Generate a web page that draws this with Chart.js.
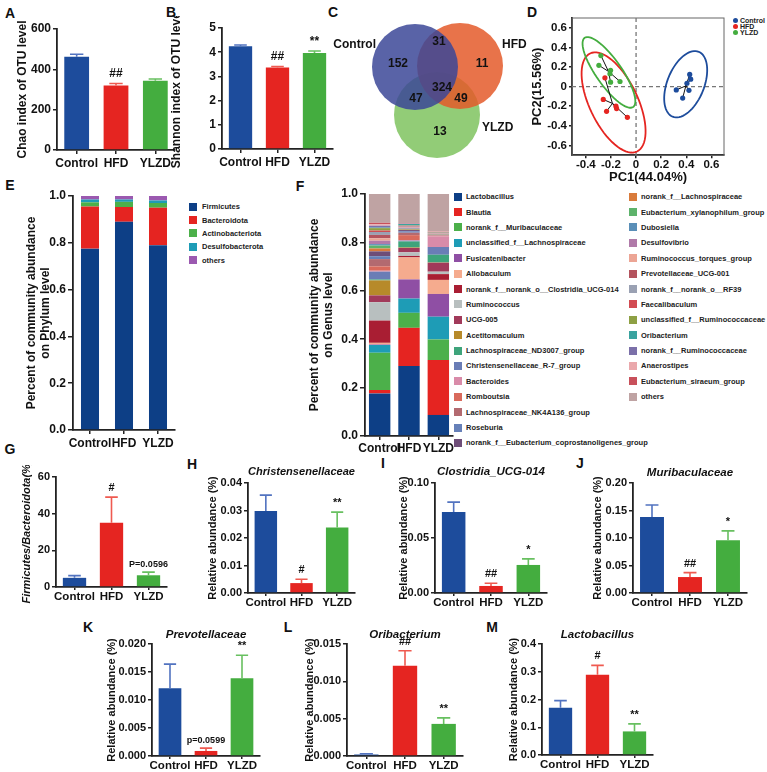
<!DOCTYPE html>
<html lang="en">
<head>
<meta charset="UTF-8">
<title>Gut microbiota – YLZD</title>
<script src="https://cdn.jsdelivr.net/npm/chart.js"></script>
<style>
  body { margin: 0; width: 767px; height: 772px; background: #fff; position: relative; overflow: hidden;
         font-family: 'Liberation Sans', Arial, sans-serif; color: #111; }
  canvas { position: absolute; }
  .letter { position: absolute; font-weight: bold; font-size: 14px; line-height: 1; transform: translate(-50%, -50%); }
  .lg { position: absolute; font-weight: bold; color: #222; }
  .lg .it { display: flex; align-items: center; white-space: nowrap; }
  .lg .sw { display: inline-block; flex: none; }
  #legendE { left: 189px; top: 200px; font-size: 7.5px; }
  #legendE .it { height: 13.4px; }
  #legendE .sw { width: 8px; height: 8px; margin-right: 5px; }
  #legendF { left: 454px; top: 189px; font-size: 7.5px; display: grid; grid-template-rows: repeat(17, 15.4px);
             grid-template-columns: 175px auto; grid-auto-flow: column; }
  #legendF .sw { width: 8px; height: 8px; margin-right: 4px; }
  #legendD { left: 733px; top: 17px; font-size: 7px; }
  #legendD .it { height: 6.4px; }
  #legendD .sw { width: 5px; height: 5px; border-radius: 50%; margin-right: 2px; }
</style>
</head>
<body>
<div class="letter" style="left:10px;top:13px">A</div>
<div class="letter" style="left:171px;top:12px">B</div>
<div class="letter" style="left:333px;top:12px">C</div>
<div class="letter" style="left:532px;top:12px">D</div>
<div class="letter" style="left:10px;top:185px">E</div>
<div class="letter" style="left:300px;top:186px">F</div>
<div class="letter" style="left:10px;top:449px">G</div>
<div class="letter" style="left:192px;top:464px">H</div>
<div class="letter" style="left:383px;top:463px">I</div>
<div class="letter" style="left:580px;top:463px">J</div>
<div class="letter" style="left:88px;top:627px">K</div>
<div class="letter" style="left:288px;top:627px">L</div>
<div class="letter" style="left:492px;top:627px">M</div>
<div id="legendD" class="lg"></div>
<div id="legendE" class="lg"></div>
<div id="legendF" class="lg"></div>

<script>
// ---------------- data ----------------
const groups = ['Control', 'HFD', 'YLZD'];
const groupColors = ['#1d4c9c', '#e52521', '#44ad3f'];
const errColors = ['#5273c0', '#ef5a50', '#68c060'];

// A, B: alpha diversity
const chaoMean = [462, 320, 343];
const chaoErr = [13, 10, 9];
const chaoMarks = ['', '##', ''];
const shannonMean = [4.25, 3.37, 3.97];
const shannonErr = [0.05, 0.04, 0.08];
const shannonMarks = ['', '##', '**'];

// C: Venn (OTU counts)
const vennSets = ['Control', 'HFD', 'YLZD'];
const vennCounts = [152, 31, 11, 47, 324, 49, 13];

// D: PCA
const pcaControl = [[0.427, 0.124], [0.435, 0.076], [0.421, -0.038], [0.32, -0.034], [0.371, -0.117], [0.405, 0.034]];
const pcaHFD = [[-0.248, 0.09], [-0.261, -0.131], [-0.235, -0.252], [-0.16, -0.2], [-0.155, -0.224], [-0.069, -0.314]];
const pcaYLZD = [[-0.28, 0.317], [-0.296, 0.217], [-0.203, 0.166], [-0.203, 0.045], [-0.128, 0.052], [-0.208, 0.131]];
const ellipseCenter = [[0.395, 0.024], [-0.179, -0.162], [-0.216, 0.145]];
const ellipseMajor = [[0.104, 0.331], [0.187, -0.5], [0.193, -0.353]];
const ellipseMinor = [[0.136, -0.071], [0.173, 0.107], [0.083, 0.076]];
const pcaXTicks = [-0.4, -0.2, 0, 0.2, 0.4, 0.6];
const pcaYTicks = [-0.6, -0.4, -0.2, 0, 0.2, 0.4, 0.6];

// E: phylum level
const phylumNames = ['Firmicutes', 'Bacteroidota', 'Actinobacteriota', 'Desulfobacterota', 'others'];
const phylumColors = ['#0d3f86', '#e52421', '#4cb04a', '#1e9cb6', '#9b59b0'];
const phylumControl = [0.775, 0.18, 0.018, 0.012, 0.015];
const phylumHFD = [0.89, 0.063, 0.022, 0.01, 0.015];
const phylumYLZD = [0.79, 0.16, 0.02, 0.011, 0.019];

// F: genus level
const genusNames = ['Lactobacillus', 'Blautia', 'norank_f__Muribaculaceae', 'unclassified_f__Lachnospiraceae',
  'Fusicatenibacter', 'Allobaculum', 'norank_f__norank_o__Clostridia_UCG-014', 'Ruminococcus', 'UCG-005',
  'Acetitomaculum', 'Lachnospiraceae_ND3007_group', 'Christensenellaceae_R-7_group', 'Bacteroides', 'Romboutsia',
  'Lachnospiraceae_NK4A136_group', 'Roseburia', 'norank_f__Eubacterium_coprostanoligenes_group',
  'norank_f__Lachnospiraceae', 'Eubacterium_xylanophilum_group', 'Dubosiella', 'Desulfovibrio',
  'Ruminococcus_torques_group', 'Prevotellaceae_UCG-001', 'norank_f__norank_o__RF39', 'Faecalibaculum',
  'unclassified_f__Ruminococcaceae', 'Oribacterium', 'norank_f__Ruminococcaceae', 'Anaerostipes',
  'Eubacterium_siraeum_group', 'others'];
const genusColors = ['#0d3f86', '#e52421', '#4cb04a', '#1e9cb6', '#8f4fa4', '#f5ab8e', '#a91e33', '#b8bfbf',
  '#a13a5a', '#b78a2a', '#3ea47b', '#6a7db6', '#d98ba9', '#d96a5c', '#b36a70', '#6680b8', '#6e4d78',
  '#d97b3b', '#5db36b', '#5a8fb8', '#b07aa9', '#eca595', '#b4545e', '#9aa1b3', '#d24b52', '#8ea044',
  '#3aa39f', '#7b70a9', '#eaa8ac', '#c8505b', '#bfa3a3'];
const genusControl = [0.176, 0.014, 0.154, 0.032, 0.002, 0.007, 0.092, 0.076, 0.028, 0.062, 0.004, 0.032,
  0.004, 0.018, 0.03, 0.012, 0.02, 0.012, 0.012, 0.006, 0.014, 0.01, 0.014, 0.012, 0.006, 0.01, 0.002,
  0.008, 0.006, 0.006, 0.119];
const genusHFD = [0.289, 0.158, 0.062, 0.059, 0.079, 0.091, 0.006, 0.015, 0.018, 0.002, 0.025, 0.003,
  0.003, 0.02, 0.01, 0.006, 0.005, 0.002, 0.003, 0.001, 0.004, 0.003, 0.002, 0.002, 0.001, 0.001, 0.006,
  0.001, 0.001, 0.002, 0.12];
const genusYLZD = [0.087, 0.227, 0.085, 0.094, 0.094, 0.058, 0.024, 0.01, 0.037, 0.001, 0.032, 0.032,
  0.044, 0.003, 0.001, 0.001, 0.001, 0.001, 0.001, 0.001, 0.001, 0.001, 0.001, 0.002, 0.001, 0.001, 0.001,
  0.001, 0.001, 0.001, 0.155];

// G-M: relative abundance
const fbMean = [5, 35, 6.4];
const fbErr = [1.2, 14, 1.7];
const fbMarks = ['', '#', 'P=0.0596'];
const christMean = [0.0298, 0.0036, 0.0238];
const christErr = [0.0058, 0.0014, 0.0056];
const christMarks = ['', '#', '**'];
const clostMean = [0.0736, 0.0064, 0.0255];
const clostErr = [0.009, 0.0024, 0.0055];
const clostMarks = ['', '##', '*'];
const muriMean = [0.138, 0.029, 0.096];
const muriErr = [0.022, 0.008, 0.017];
const muriMarks = ['', '##', '*'];
const prevoMean = [0.0121, 0.0009, 0.0139];
const prevoErr = [0.0043, 0.0005, 0.0041];
const prevoMarks = ['', 'p=0.0599', '**'];
const oribMean = [0.0002, 0.0121, 0.0043];
const oribErr = [0.0001, 0.002, 0.0008];
const oribMarks = ['', '##', '**'];
const lactoMean = [0.17, 0.289, 0.085];
const lactoErr = [0.026, 0.034, 0.027];
const lactoMarks = ['', '#', '**'];

// ---------------- setup ----------------
const FONT = "'Liberation Sans', Arial, sans-serif";
Chart.defaults.font.family = FONT;
Chart.defaults.font.weight = 'bold';
Chart.defaults.color = '#111';
Chart.defaults.animation = false;
Chart.defaults.plugins.legend.display = false;
Chart.defaults.plugins.tooltip.enabled = false;

function makeCanvas(left, top, w, h) {
  const c = document.createElement('canvas');
  c.width = w; c.height = h;
  c.style.left = left + 'px'; c.style.top = top + 'px';
  c.style.width = w + 'px'; c.style.height = h + 'px';
  document.body.appendChild(c);
  return c;
}

// error bars (upper only) + significance marks above them
const errorBars = {
  id: 'errorBars',
  afterDatasetsDraw(chart, args, opts) {
    if (!opts.errors) return;
    const ctx = chart.ctx;
    const y = chart.scales.y;
    const values = chart.data.datasets[0].data;
    chart.getDatasetMeta(0).data.forEach((bar, i) => {
      const yBar = y.getPixelForValue(values[i]);
      const yErr = y.getPixelForValue(values[i] + opts.errors[i]);
      const half = bar.width * 0.27;
      ctx.save();
      ctx.strokeStyle = errColors[i];
      ctx.lineWidth = 1.6;
      ctx.beginPath();
      ctx.moveTo(bar.x, yBar);
      ctx.lineTo(bar.x, yErr);
      ctx.moveTo(bar.x - half, yErr);
      ctx.lineTo(bar.x + half, yErr);
      ctx.stroke();
      const mark = opts.marks[i];
      if (mark) {
        const small = mark.includes('=');
        ctx.fillStyle = '#111';
        ctx.font = `bold ${small ? 9 : opts.markSize}px ${FONT}`;
        ctx.textAlign = 'center';
        ctx.textBaseline = 'alphabetic';
        ctx.fillText(mark, bar.x, yErr - (small ? 5 : 6));
      }
      ctx.restore();
    });
  }
};

// legend built in html from the chart's own legend items
const htmlLegend = {
  id: 'htmlLegend',
  afterUpdate(chart, args, opts) {
    const box = document.getElementById(opts.containerID);
    if (!box) return;
    box.innerHTML = '';
    chart.options.plugins.legend.labels.generateLabels(chart).forEach(item => {
      const row = document.createElement('div');
      row.className = 'it';
      const sw = document.createElement('span');
      sw.className = 'sw';
      sw.style.background = item.fillStyle;
      const tx = document.createElement('span');
      tx.textContent = item.text;
      row.append(sw, tx);
      box.append(row);
    });
  }
};

const axisColor = '#222';

function yScale(p) {
  return {
    min: 0, max: p.max,
    ticks: { stepSize: p.step, font: { size: p.tick }, padding: 2, callback: v => (+v).toFixed(p.dec) },
    grid: { display: true, drawOnChartArea: false, drawTicks: true, tickLength: p.yTl || 4, color: axisColor, lineWidth: 1.5 },
    border: { display: true, color: axisColor, width: 1.8 },
    title: { display: true, text: p.yTitle, padding: 0,
             font: { size: p.titleSize, style: p.italic ? 'italic' : 'normal', lineHeight: p.titleLh || 1.25 } },
    afterFit: s => { s.width = p.yW; }
  };
}

function xScale(p) {
  return {
    ticks: { font: { size: p.xTick }, padding: p.xPad, maxRotation: 0, minRotation: 0, autoSkip: false },
    grid: { display: true, drawOnChartArea: false, drawTicks: true, tickLength: p.xTl, color: axisColor, lineWidth: 1.5, offset: false },
    border: { display: true, color: axisColor, width: 1.8 },
    afterFit: s => { s.height = p.xH; }
  };
}

// simple bar panel with error bars
function barPanel(p) {
  const [x0, yTop, x1, y0] = p.area;
  const left = Math.round(p.titleX - p.titleSize * 0.625);
  const top = Math.round(yTop - p.topSpace);
  const w = Math.round(x1 + 6 - left);
  const h = Math.round(y0 + p.xH - top);
  p.yW = x0 - left;
  const canvas = makeCanvas(left, top, w, h);
  const titleH = p.title ? p.headSize * 1.2 + p.headGap : 0;
  new Chart(canvas, {
    type: 'bar',
    data: {
      labels: groups,
      datasets: [{ data: p.mean, backgroundColor: groupColors, borderWidth: 0, barPercentage: 0.63, categoryPercentage: 1 }]
    },
    options: {
      responsive: false,
      layout: { padding: { left: 0, top: (yTop - top) - titleH, right: w - (x1 - left), bottom: 0 } },
      scales: { x: xScale(p), y: yScale(p) },
      plugins: {
        title: p.title ? {
          display: true, text: p.title, fullSize: false,
          font: { size: p.headSize, style: 'italic', weight: 'bold' },
          padding: { top: 0, bottom: p.headGap }, color: '#111'
        } : { display: false },
        errorBars: { errors: p.err, marks: p.marks, markSize: p.markSize }
      }
    },
    plugins: [errorBars]
  });
}

// stacked composition panel
function stackPanel(p) {
  const [x0, yTop, x1, y0] = p.area;
  const left = Math.round(p.titleX - p.titleSize * p.titleLh / 2);
  const top = Math.round(yTop - p.topSpace);
  const w = Math.round(x1 + 6 - left);
  const h = Math.round(y0 + p.xH - top);
  p.yW = x0 - left;
  const canvas = makeCanvas(left, top, w, h);
  const datasets = p.names.map((name, k) => ({
    label: name,
    data: p.values.map(g => g[k]),
    backgroundColor: p.colors[k],
    borderWidth: 0,
    barPercentage: p.barPct,
    categoryPercentage: 1
  }));
  const xs = xScale(p); xs.stacked = true;
  const ys = yScale(p); ys.stacked = true;
  new Chart(canvas, {
    type: 'bar',
    data: { labels: groups, datasets },
    options: {
      responsive: false,
      layout: { padding: { left: 0, top: yTop - top, right: w - (x1 - left), bottom: 0 } },
      scales: { x: xs, y: ys },
      plugins: { htmlLegend: { containerID: p.legendID } }
    },
    plugins: [htmlLegend]
  });
}

// ---------------- A, B ----------------
const topRow = { tick: 12, titleSize: 12, xTick: 12, xPad: 2, xTl: 4, xH: 20, topSpace: 12, markSize: 12 };
barPanel(Object.assign({}, topRow, {
  area: [57, 29, 175, 150], max: 600, step: 200, dec: 0, titleX: 22,
  yTitle: 'Chao index of OTU level', mean: chaoMean, err: chaoErr, marks: chaoMarks
}));
barPanel(Object.assign({}, topRow, {
  area: [222, 28, 333, 149], max: 5, step: 1, dec: 0, titleX: 176,
  yTitle: 'Shannon index of OTU level', mean: shannonMean, err: shannonErr, marks: shannonMarks
}));

// ---------------- C: Venn ----------------
const vennCenter = [[85, 53], [130, 52], [107, 101]];
const vennRadius = 43;
const vennFill = ['rgba(60,72,152,0.85)', 'rgba(228,91,42,0.85)', 'rgba(104,184,66,0.72)'];
const vennCountPos = [[68, 50], [109, 28], [152, 50], [86, 85], [112, 74], [131, 85], [110, 118]];
const vennNamePos = [[46, 31, 'right'], [172, 31, 'left'], [152, 114, 'left']];

const vennText = {
  id: 'vennText',
  afterDatasetsDraw(chart) {
    const { ctx, scales: { x, y } } = chart;
    ctx.save();
    ctx.fillStyle = '#111';
    ctx.font = `bold 12px ${FONT}`;
    ctx.textBaseline = 'middle';
    ctx.textAlign = 'center';
    vennCounts.forEach((n, i) => {
      ctx.fillText(String(n), x.getPixelForValue(vennCountPos[i][0]), y.getPixelForValue(vennCountPos[i][1]));
    });
    vennSets.forEach((name, i) => {
      ctx.textAlign = vennNamePos[i][2];
      ctx.fillText(name, x.getPixelForValue(vennNamePos[i][0]), y.getPixelForValue(vennNamePos[i][1]));
    });
    ctx.restore();
  }
};

new Chart(makeCanvas(330, 14, 210, 151), {
  type: 'scatter',
  data: {
    datasets: vennSets.map((name, i) => ({
      label: name,
      data: [{ x: vennCenter[i][0], y: vennCenter[i][1] }],
      backgroundColor: vennFill[i],
      borderWidth: 0,
      clip: false,
      pointRadius: ctx => {
        const s = ctx.chart.scales.x;
        return s.getPixelForValue(vennRadius) - s.getPixelForValue(0);
      }
    }))
  },
  options: {
    responsive: false,
    layout: { padding: 0 },
    scales: {
      x: { display: false, min: 0, max: 210 },
      y: { display: false, min: 0, max: 151, reverse: true }
    }
  },
  plugins: [vennText]
});

// ---------------- D: PCA ----------------
const pcaGroups = [pcaControl, pcaHFD, pcaYLZD];
const pcaExtras = {
  id: 'pcaExtras',
  beforeDatasetsDraw(chart) {
    const { ctx, chartArea: a, scales: { x, y } } = chart;
    ctx.save();
    // frame
    ctx.strokeStyle = '#666';
    ctx.lineWidth = 1;
    ctx.strokeRect(a.left, a.top, a.right - a.left, a.bottom - a.top);
    // zero lines
    ctx.strokeStyle = '#777';
    ctx.lineWidth = 1.3;
    ctx.setLineDash([4, 3]);
    ctx.beginPath();
    ctx.moveTo(x.getPixelForValue(0), a.top);
    ctx.lineTo(x.getPixelForValue(0), a.bottom);
    ctx.moveTo(a.left, y.getPixelForValue(0));
    ctx.lineTo(a.right, y.getPixelForValue(0));
    ctx.stroke();
    ctx.setLineDash([]);
    // confidence ellipses
    ellipseCenter.forEach((c, g) => {
      const u = ellipseMajor[g], v = ellipseMinor[g];
      ctx.strokeStyle = groupColors[g];
      ctx.lineWidth = 1.8;
      ctx.beginPath();
      for (let k = 0; k <= 72; k++) {
        const t = k / 72 * Math.PI * 2;
        const px = x.getPixelForValue(c[0] + u[0] * Math.cos(t) + v[0] * Math.sin(t));
        const py = y.getPixelForValue(c[1] + u[1] * Math.cos(t) + v[1] * Math.sin(t));
        if (k === 0) ctx.moveTo(px, py); else ctx.lineTo(px, py);
      }
      ctx.stroke();
    });
    // spider lines from group centroid
    ctx.strokeStyle = '#111';
    ctx.lineWidth = 1;
    pcaGroups.forEach(pts => {
      const cx = pts.reduce((s, p) => s + p[0], 0) / pts.length;
      const cy = pts.reduce((s, p) => s + p[1], 0) / pts.length;
      ctx.beginPath();
      pts.forEach(p => {
        ctx.moveTo(x.getPixelForValue(cx), y.getPixelForValue(cy));
        ctx.lineTo(x.getPixelForValue(p[0]), y.getPixelForValue(p[1]));
      });
      ctx.stroke();
    });
    ctx.restore();
  }
};

const fmt1 = v => (Math.abs(v) < 1e-9 ? '0' : (+v).toFixed(1));
new Chart(makeCanvas(530, 8, 237, 177), {
  type: 'scatter',
  data: {
    datasets: groups.map((name, g) => ({
      label: name,
      data: pcaGroups[g].map(p => ({ x: p[0], y: p[1] })),
      backgroundColor: groupColors[g],
      borderWidth: 0,
      pointRadius: 2.6
    }))
  },
  options: {
    responsive: false,
    layout: { padding: { left: 0, top: 10, right: 767 - 724, bottom: 0 } },
    scales: {
      x: {
        type: 'linear', min: -0.51, max: 0.7,
        afterBuildTicks: s => { s.ticks = pcaXTicks.map(v => ({ value: v })); },
        ticks: { font: { size: 11.5 }, padding: 0, callback: fmt1, maxRotation: 0 },
        grid: { display: true, drawOnChartArea: false, drawTicks: true, tickLength: 3, color: axisColor, lineWidth: 1.5 },
        border: { display: true, color: axisColor, width: 1.8 },
        title: { display: true, text: 'PC1(44.04%)', padding: 0, font: { size: 13 } },
        afterFit: s => { s.height = 29.8; }
      },
      y: {
        type: 'linear', min: -0.7, max: 0.7,
        afterBuildTicks: s => { s.ticks = pcaYTicks.map(v => ({ value: v })); },
        ticks: { font: { size: 11.5 }, padding: 2, callback: fmt1 },
        grid: { display: true, drawOnChartArea: false, drawTicks: true, tickLength: 3, color: axisColor, lineWidth: 1.5 },
        border: { display: true, color: axisColor, width: 1.8 },
        title: { display: true, text: 'PC2(15.56%)', padding: 0, font: { size: 13 } },
        afterFit: s => { s.width = 42; }
      }
    },
    plugins: { htmlLegend: { containerID: 'legendD' } }
  },
  plugins: [pcaExtras, htmlLegend]
});

// ---------------- E, F ----------------
stackPanel({
  area: [73, 196, 175, 430], max: 1, step: 0.2, dec: 1, tick: 12, titleSize: 12, titleLh: 1.2, titleX: 31,
  yTitle: ['Percent of community abundance', 'on Phylum level'], xTick: 12, xPad: 2, xTl: 4, yTl: 5, xH: 20, topSpace: 12,
  names: phylumNames, colors: phylumColors, values: [phylumControl, phylumHFD, phylumYLZD], barPct: 0.53,
  legendID: 'legendE'
});
stackPanel({
  area: [365, 194, 453, 436], max: 1, step: 0.2, dec: 1, tick: 12, titleSize: 12, titleLh: 1.2, titleX: 314,
  yTitle: ['Percent of community abundance', 'on Genus level'], xTick: 12, xPad: 1, xTl: 4, yTl: 5, xH: 20, topSpace: 12,
  names: genusNames, colors: genusColors, values: [genusControl, genusHFD, genusYLZD], barPct: 0.73,
  legendID: 'legendF'
});

// ---------------- G - M ----------------
const lowRow = { tick: 11, titleSize: 11, xTick: 11.5, xPad: 0, xTl: 3, xH: 18, markSize: 11 };
barPanel(Object.assign({}, lowRow, {
  area: [56, 477, 167, 587], max: 60, step: 20, dec: 0, titleX: 27, italic: true, topSpace: 12,
  yTitle: 'Firmicutes/Bacteroidota(%)', mean: fbMean, err: fbErr, marks: fbMarks
}));
const species = { titleSize: 11, headSize: 11.5 };
barPanel(Object.assign({}, lowRow, species, {
  area: [248, 483, 355, 593], max: 0.04, step: 0.01, dec: 2, titleX: 213, topSpace: 19, headGap: 4,
  yTitle: 'Relative abundance (%)', title: 'Christensenellaceae', mean: christMean, err: christErr, marks: christMarks
}));
barPanel(Object.assign({}, lowRow, species, {
  area: [435, 483, 547, 593], max: 0.10, step: 0.05, dec: 2, titleX: 404, topSpace: 19, headGap: 4,
  yTitle: 'Relative abundance (%)', title: 'Clostridia_UCG-014', mean: clostMean, err: clostErr, marks: clostMarks
}));
barPanel(Object.assign({}, lowRow, species, {
  area: [633, 483, 747, 593], max: 0.20, step: 0.05, dec: 2, titleX: 598, topSpace: 19, headGap: 3,
  yTitle: 'Relative abundance (%)', title: 'Muribaculaceae', mean: muriMean, err: muriErr, marks: muriMarks
}));
barPanel(Object.assign({}, lowRow, species, {
  area: [152, 644, 260, 756], max: 0.020, step: 0.005, dec: 3, titleX: 112, topSpace: 17, headGap: 2,
  yTitle: 'Relative abundance (%)', title: 'Prevotellaceae', mean: prevoMean, err: prevoErr, marks: prevoMarks
}));
barPanel(Object.assign({}, lowRow, species, {
  area: [347, 644, 463, 756], max: 0.015, step: 0.005, dec: 3, titleX: 310, topSpace: 17, headGap: 2,
  yTitle: 'Relative abundance (%)', title: 'Oribacterium', mean: oribMean, err: oribErr, marks: oribMarks
}));
barPanel(Object.assign({}, lowRow, species, {
  area: [542, 644, 653, 755], max: 0.4, step: 0.1, dec: 1, titleX: 514, topSpace: 17, headGap: 2,
  yTitle: 'Relative abundance (%)', title: 'Lactobacillus', mean: lactoMean, err: lactoErr, marks: lactoMarks
}));
</script>
</body>
</html>
